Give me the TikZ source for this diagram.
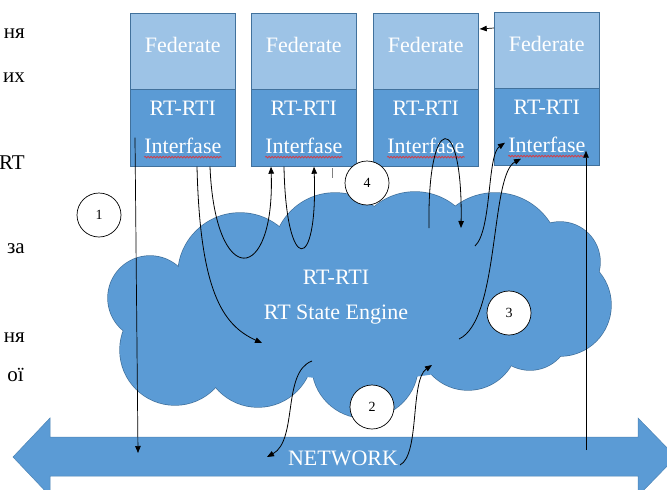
\documentclass[tikz,border=0pt]{standalone}
\usepackage{fontspec}
\setmainfont{Liberation Serif}
\usetikzlibrary{arrows.meta,calc,decorations.pathmorphing}
\definecolor{fedlight}{HTML}{9DC3E6}
\definecolor{acc}{HTML}{5B9BD5}
\definecolor{accdark}{HTML}{41719C}
\definecolor{squig}{HTML}{D0404A}
\begin{document}
\begin{tikzpicture}[x=1pt,y=-1pt,
  fedbox/.style={draw=accdark, line width=0.7pt, fill=fedlight, minimum width=105pt, minimum height=76pt, anchor=north west, inner sep=0pt},
  rtibox/.style={draw=accdark, line width=0.7pt, fill=acc, minimum width=105pt, minimum height=77pt, anchor=north west, inner sep=0pt},
  wtxt/.style={text=white, inner sep=0pt, font=\fontsize{22}{26}\selectfont},
  side/.style={anchor=base east, inner sep=0pt, font=\fontsize{21}{25}\selectfont},
  numc/.style={circle, draw=black, line width=0.7pt, fill=white, minimum size=44pt, inner sep=0pt, font=\fontsize{14}{16}\selectfont},
  arr/.style={draw=black, line width=0.8pt, -{Triangle[length=7pt,width=5.5pt]}},
  wavy/.style={draw=squig, line width=0.8pt, decorate, decoration={snake, amplitude=0.8pt, segment length=3pt}}
]
\useasboundingbox (0,0) rectangle (667,490);

% fragments of the running text on the left
\node[side] (s1) at (25,38) {ня};
\node[side] (s2) at (25,82) {их};
\node[side] (s3) at (25,169) {RT};
\node[side] (s4) at (25,253) {за};
\node[side] (s5) at (25,342) {ня};
\node[side] (s6) at (24,381) {ої};

% the cloud: outline of all lobes first, then their fill on top
\def\lobes{150/298/42, 175/350/55, 240/275/62, 258/352/55, 335/255/62, 365/365/53, 415/255/63, 468/340/50, 495/258/65, 560/262/40, 560/305/51, 530/330/40}
\foreach \x/\y/\r in \lobes {\draw[accdark, line width=1.4pt] (\x,\y) circle[radius=\r pt];}
\foreach \x/\y/\r in \lobes {\fill[acc] (\x,\y) circle[radius=\r pt];}
\fill[acc] (360,305) ellipse[x radius=190pt, y radius=75pt];
\node[wtxt] (eng1) at (336,277) {RT-RTI};
\node[wtxt] (eng2) at (336,315) {RT State Engine};

% network double arrow
\path[fill=acc, draw=acc!85!black, line width=0.5pt]
  (13,457) -- (50,418) -- (50,437) -- (638,437) -- (638,418) -- (676,457)
  -- (638,496) -- (638,476) -- (50,476) -- (50,496) -- cycle;
\node[wtxt] (net) at (343,458) {NETWORK};

% federates with their RT-RTI interfaces
\foreach \i/\x/\y in {1/130/13, 2/251/13, 3/373/13, 4/494/12} {
  \node[fedbox] (fed\i) at (\x,\y) {};
  \node[rtibox] (rti\i) at (\x,\y+76) {};
  \node[wtxt] (fedt\i) at ($(fed\i.north)+(0,32)$) {Federate};
  \node[wtxt] (rtit\i) at ($(rti\i.north)+(0,19)$) {RT-RTI};
  \node[wtxt] (ift\i) at ($(rti\i.north)+(0,57)$) {Interfase};
  \draw[wavy] ($(ift\i.base west)+(0,3.5)$) -- ($(ift\i.base east)+(0,3.5)$);
}

% free ends of the connectors
\coordinate (cA) at (262,343);
\coordinate (cD1) at (429,228);
\coordinate (cD2) at (461,228);
\coordinate (cE) at (475,246);
\coordinate (cF) at (459,339);
\coordinate (cG1) at (312,361);
\coordinate (cG2) at (267,457);
\coordinate (cH1) at (400,465);
\coordinate (cH2) at (432,365);
\coordinate (cL) at (138,453);
\coordinate (cR) at (586,450);

% connectors
\draw[arr] ($(rti1.south west)+(67,0)$) .. controls (200,290) and (222,325) .. (cA);
\draw[arr] ($(rti1.south west)+(80,0)$) .. controls (215,290) and (275,285) .. ($(rti2.south west)+(20,0)$);
\draw[arr] ($(rti2.south west)+(33,0)$) .. controls (286,275) and (318,275) .. ($(rti2.south west)+(63,0)$);
\draw[arr] (cD1) .. controls (427,110) and (463,110) .. (cD2);
\draw[arr] (cE) .. controls (492,230) and (487,155) .. ($(rti4.south west)+(11,-23)$);
\draw[arr] (cF) .. controls (500,320) and (490,175) .. ($(rti4.south west)+(27,-7)$);
\draw[arr] (cG1) .. controls (282,372) and (298,440) .. (cG2);
\draw[arr] (cH1) .. controls (420,455) and (410,380) .. (cH2);
\draw[arr, line width=0.7pt] ($(rti1.south west)+(5,-29)$) -- (cL);
\draw[arr, line width=0.7pt] (cR) -- ($(rti4.south west)+(92,-15)$);
\draw[arr, line width=0.7pt] ($(fed4.north west)+(0,16)$) -- ($(fed3.north east)+(1,16)$);
\draw[gray, line width=0.6pt] (332,168) -- (332,178);

% numbered markers
\node[numc] (n1) at (99,215) {1};
\node[numc] (n2) at (372,407) {2};
\node[numc] (n3) at (509,313) {3};
\node[numc] (n4) at (367,183) {4};
\end{tikzpicture}
\end{document}
